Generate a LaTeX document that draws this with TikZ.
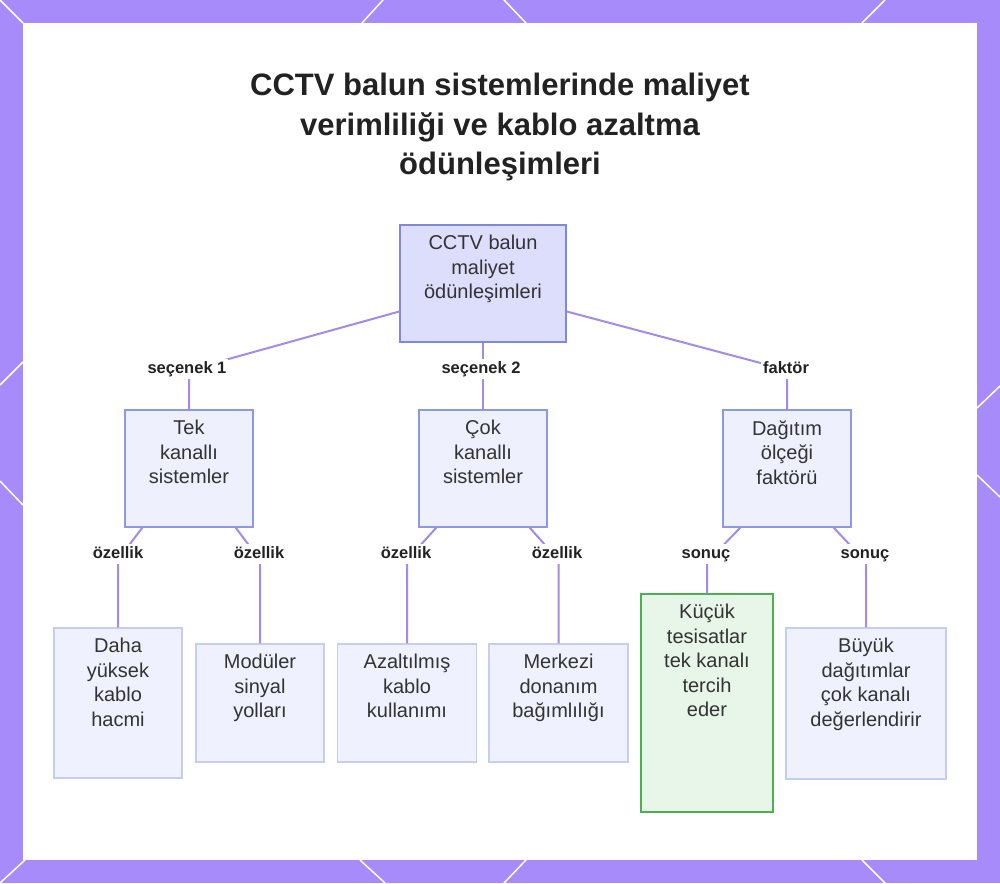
\documentclass[tikz,border=0pt]{standalone}
\usepackage{fontspec}
\setmainfont{Liberation Sans}
\usetikzlibrary{calc}
\definecolor{framecol}{RGB}{167,139,250}
\definecolor{edgecol}{RGB}{163,139,232}
\definecolor{rootfill}{RGB}{220,222,252}
\definecolor{rootdraw}{RGB}{126,136,220}
\definecolor{midfill}{RGB}{238,240,254}
\definecolor{middraw}{RGB}{140,154,230}
\definecolor{leaffill}{RGB}{239,242,254}
\definecolor{leafdraw}{RGB}{197,205,240}
\definecolor{greenfill}{RGB}{232,245,233}
\definecolor{greendraw}{RGB}{76,175,80}
\definecolor{txtcol}{RGB}{51,51,51}
\definecolor{titlecol}{RGB}{34,34,34}
\tikzset{
  box/.style={draw, rectangle, line width=1.5pt, inner sep=0pt},
  rootbox/.style={box, fill=rootfill, draw=rootdraw},
  midbox/.style={box, fill=midfill, draw=middraw},
  leafbox/.style={box, fill=leaffill, draw=leafdraw},
  greenbox/.style={box, fill=greenfill, draw=greendraw},
  txt/.style={anchor=north, align=center, inner sep=0pt, text=txtcol, font=\fontsize{20}{24.5}\selectfont},
  lab/.style={fill=white, inner sep=2pt, text height=12pt, text depth=4pt, text=titlecol, font=\bfseries\fontsize{16.5}{19}\selectfont},
  edge/.style={draw=edgecol, line width=2pt},
  deco/.style={draw=white, line width=1.5pt}
}
\begin{document}
\begin{tikzpicture}[x=1pt,y=-1pt]
\useasboundingbox (0,0) rectangle (1000,883);
\fill[framecol] (0,0) rectangle (1000,883);
\fill[white] (23,23) rectangle (977,860);
% decorative diagonals
\draw[deco] (0,0) -- (23,23);
\draw[deco] (383,0) -- (362,23);
\draw[deco] (504,0) -- (526,23);
\draw[deco] (885,0) -- (862,23);
\draw[deco] (25,860) -- (0,883);
\draw[deco] (360,860) -- (385,883);
\draw[deco] (526,860) -- (504,883);
\draw[deco] (862,860) -- (885,883);
\draw[deco] (0,385) -- (23,362);
\draw[deco] (0,481) -- (23,505);
\draw[deco] (977,408) -- (1000,386);
\draw[deco] (977,475) -- (1000,497);

% title
\node[anchor=north, align=center, inner sep=0pt, text=titlecol, font=\bfseries\fontsize{31}{39.5}\selectfont] (title) at (500,73)
  {CCTV balun sistemlerinde maliyet\\verimliliği ve kablo azaltma\\ödünleşimleri};

% boxes
\node[rootbox, minimum width=166pt, minimum height=117pt] (root) at (483,283.5) {};
\node[midbox, minimum width=128pt, minimum height=117pt] (b1) at (189,468.5) {};
\node[midbox, minimum width=128pt, minimum height=117pt] (b2) at (483,468.5) {};
\node[midbox, minimum width=128pt, minimum height=117pt] (b3) at (787,468.5) {};
\node[leafbox, minimum width=128pt, minimum height=150pt] (l1) at (118,703) {};
\node[leafbox, minimum width=128pt, minimum height=118pt] (l2) at (260,703) {};
\node[leafbox, minimum width=139pt, minimum height=118pt] (l3) at (407,703) {};
\node[leafbox, minimum width=139pt, minimum height=118pt] (l4) at (558.5,703) {};
\node[greenbox, minimum width=132pt, minimum height=218pt] (l5) at (707,703) {};
\node[leafbox, minimum width=160pt, minimum height=151pt] (l6) at (866,703.5) {};

% texts
\node[txt] (troot) at ([yshift=-11pt]root.north) {CCTV balun\\maliyet\\ödünleşimleri};
\node[txt] (tb1) at ([yshift=-11pt]b1.north) {Tek\\kanallı\\sistemler};
\node[txt] (tb2) at ([yshift=-11pt]b2.north) {Çok\\kanallı\\sistemler};
\node[txt] (tb3) at ([yshift=-11pt]b3.north) {Dağıtım\\ölçeği\\faktörü};
\node[txt] (tl1) at ([yshift=-11pt]l1.north) {Daha\\yüksek\\kablo\\hacmi};
\node[txt] (tl2) at ([yshift=-11pt]l2.north) {Modüler\\sinyal\\yolları};
\node[txt] (tl3) at ([yshift=-11pt]l3.north) {Azaltılmış\\kablo\\kullanımı};
\node[txt] (tl4) at ([yshift=-11pt]l4.north) {Merkezi\\donanım\\bağımlılığı};
\node[txt] (tl5) at ([yshift=-11pt]l5.north) {Küçük\\tesisatlar\\tek kanalı\\tercih\\eder};
\node[txt] (tl6) at ([yshift=-11pt]l6.north) {Büyük\\dağıtımlar\\çok kanalı\\değerlendirir};

% bend coordinates
\coordinate (c1) at (189,370);
\coordinate (c3) at (787,370);
\coordinate (d1) at (118,560);
\coordinate (d2) at (260,560);
\coordinate (d3) at (407,560);
\coordinate (d4) at (558.5,560);
\coordinate (d5) at (707,562);
\coordinate (d6) at (866,562);

% edges
\draw[edge] ([yshift=-28pt]root.west) -- (c1) -- (b1.north);
\draw[edge] (root.south) -- (b2.north);
\draw[edge] ([yshift=-28pt]root.east) -- (c3) -- (b3.north);
\draw[edge] ([xshift=18pt]b1.south west) -- (d1) -- (l1.north);
\draw[edge] ([xshift=-18pt]b1.south east) -- (d2) -- (l2.north);
\draw[edge] ([xshift=18pt]b2.south west) -- (d3) -- (l3.north);
\draw[edge] ([xshift=-18pt]b2.south east) -- (d4) -- (l4.north);
\draw[edge] ([xshift=18pt]b3.south west) -- (d5) -- (l5.north);
\draw[edge] ([xshift=-18pt]b3.south east) -- (d6) -- (l6.north);

% edge labels
\node[lab] (e1) at (187,369) {seçenek 1};
\node[lab] (e2) at (481,369) {seçenek 2};
\node[lab] (e3) at (786,369) {faktör};
\node[lab] (e4) at (118,554) {özellik};
\node[lab] (e5) at (259,554) {özellik};
\node[lab] (e6) at (406,554) {özellik};
\node[lab] (e7) at (557,554) {özellik};
\node[lab] (e8) at (706,554) {sonuç};
\node[lab] (e9) at (865,554) {sonuç};
\end{tikzpicture}
\end{document}
